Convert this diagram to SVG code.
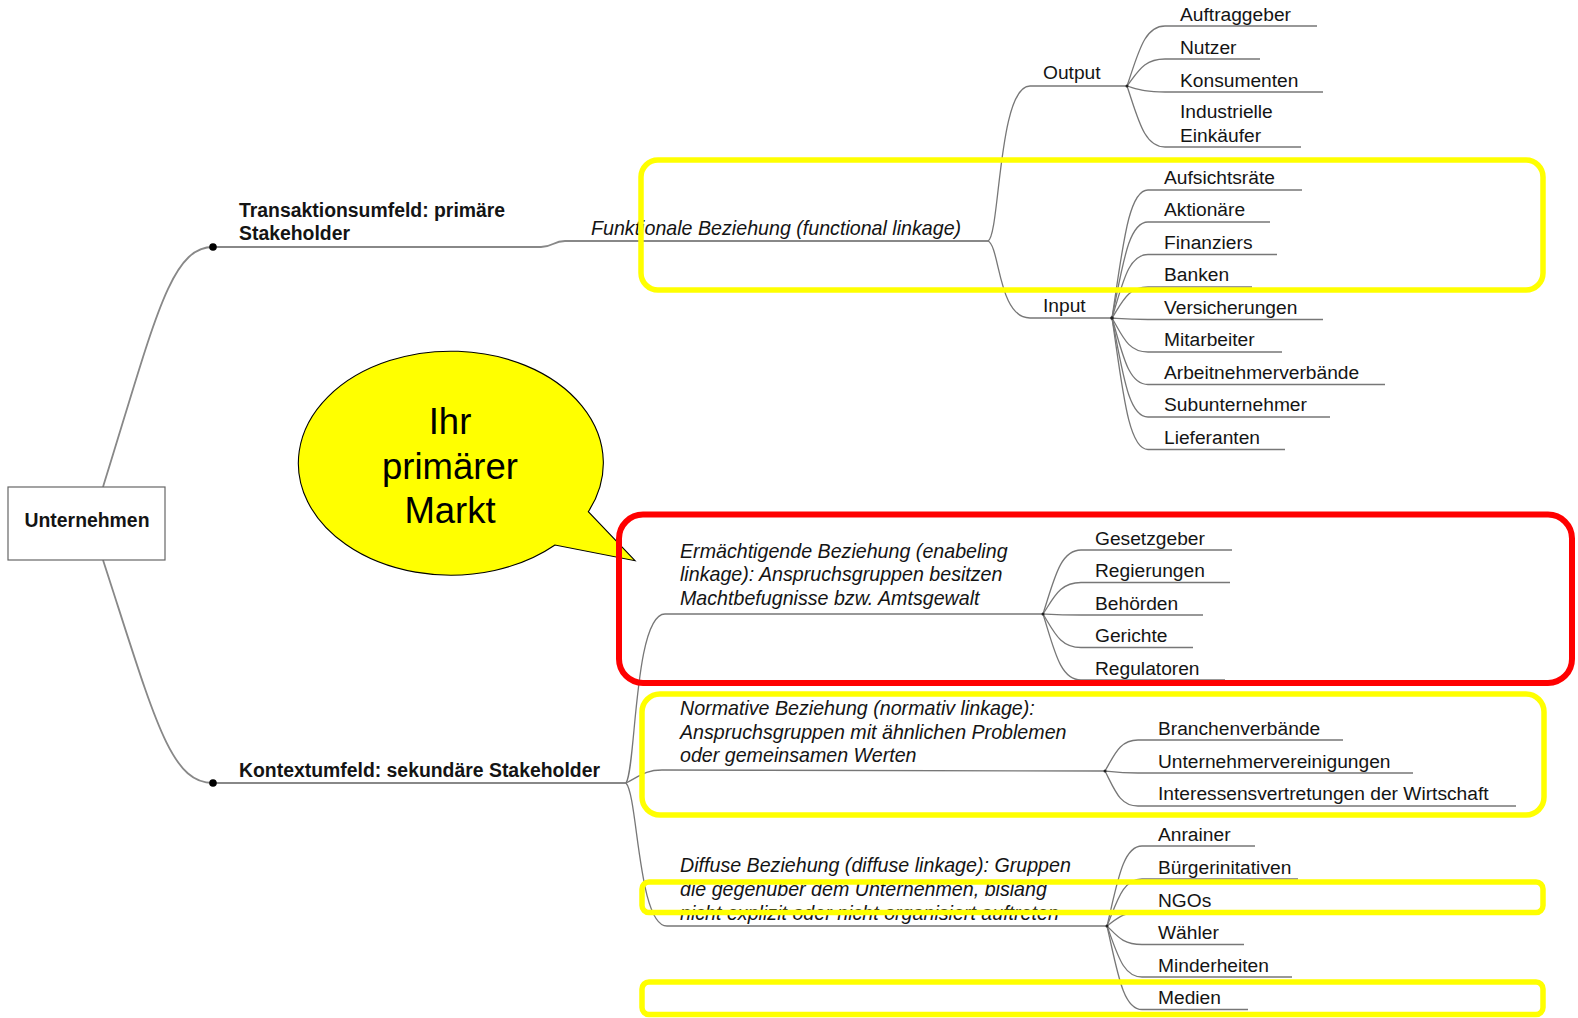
<svg xmlns="http://www.w3.org/2000/svg" width="1578" height="1018" viewBox="0 0 1578 1018">
<style>
text{font-family:"Liberation Sans",Arial,sans-serif;font-size:19.2px;fill:#141414}
.b{font-weight:bold;font-size:19.4px}
.i{font-style:italic;font-size:19.65px}
.c{fill:none;stroke:#777;stroke-width:1.3}
.m{fill:none;stroke:#888;stroke-width:1.8}
.dot{fill:#000}
.sd{fill:#222}
.hy{fill:none;stroke:#ffff00;stroke-width:5.5}
.hr{fill:none;stroke:#ff0000;stroke-width:6}
.big{font-size:36.5px;fill:#000;text-anchor:middle}
</style>
<rect width="1578" height="1018" fill="#fff"/>
<g id="connectors">
<path class="m" d="M103,487 C155,320 170,247 213,247 L541,247 C553,247 553,241 565,241 L988,241"/>
<path class="m" d="M103,560 C155,720 170,783 213,783 L626,783"/>
<path class="c" d="M988,241 C1000,236 998,86 1030,86 L1127,86"/>
<path class="c" d="M988,241 C1000,246 998,318 1030,318 L1112,318"/>
<path class="c" d="M1127,86 C1138.4,53 1144.1,26 1165,26 L1317,26"/>
<path class="c" d="M1127,86 C1138.4,71.2 1144.1,59 1165,59 L1260,59"/>
<path class="c" d="M1127,86 C1138.4,89.3 1144.1,92 1165,92 L1323,92"/>
<path class="c" d="M1127,86 C1138.4,119.6 1144.1,147 1165,147 L1301,147"/>
<path class="c" d="M1112,318 C1122.8,247.6 1128.2,190 1148,190 L1302,190"/>
<path class="c" d="M1112,318 C1122.8,265.2 1128.2,222 1148,222 L1270,222"/>
<path class="c" d="M1112,318 C1122.8,283.1 1128.2,254.5 1148,254.5 L1277,254.5"/>
<path class="c" d="M1112,318 C1122.8,301 1128.2,287 1148,287 L1252,287"/>
<path class="c" d="M1112,318 C1122.8,318.8 1128.2,319.5 1148,319.5 L1323,319.5"/>
<path class="c" d="M1112,318 C1122.8,336.7 1128.2,352 1148,352 L1282,352"/>
<path class="c" d="M1112,318 C1122.8,354.6 1128.2,384.5 1148,384.5 L1385,384.5"/>
<path class="c" d="M1112,318 C1122.8,372.5 1128.2,417 1148,417 L1330,417"/>
<path class="c" d="M1112,318 C1122.8,390.3 1128.2,449.5 1148,449.5 L1285,449.5"/>
<path class="c" d="M626,783 C636,770 634,614 665,614 L1043,614"/>
<path class="c" d="M626,783 C640,776 645,770 662,770 L1105,771"/>
<path class="c" d="M626,783 C638,796 638,926 667,926 L1107,926"/>
<path class="c" d="M1043,614 C1054.4,578.8 1060.1,550 1081,550 L1232,550"/>
<path class="c" d="M1043,614 C1054.4,596.7 1060.1,582.5 1081,582.5 L1230,582.5"/>
<path class="c" d="M1043,614 C1054.4,614.6 1060.1,615 1081,615 L1203,615"/>
<path class="c" d="M1043,614 C1054.4,632.4 1060.1,647.5 1081,647.5 L1193,647.5"/>
<path class="c" d="M1043,614 C1054.4,650.3 1060.1,680 1081,680 L1225,680"/>
<path class="c" d="M1105,771 C1114.9,754 1119.9,740 1138,740 L1343,740"/>
<path class="c" d="M1105,771 C1114.9,772.1 1119.9,773 1138,773 L1413,773"/>
<path class="c" d="M1105,771 C1114.9,790.3 1119.9,806 1138,806 L1516,806"/>
<path class="c" d="M1107,926 C1117.5,882 1122.8,846 1142,846 L1255,846"/>
<path class="c" d="M1107,926 C1117.5,900.2 1122.8,879 1142,879 L1298,879"/>
<path class="c" d="M1107,926 C1117.5,918.3 1122.8,912 1142,912 L1240,912"/>
<path class="c" d="M1107,926 C1117.5,936.2 1122.8,944.5 1142,944.5 L1244,944.5"/>
<path class="c" d="M1107,926 C1117.5,954 1122.8,977 1142,977 L1292,977"/>
<path class="c" d="M1107,926 C1117.5,971.9 1122.8,1009.5 1142,1009.5 L1248,1009.5"/>
<circle class="sd" cx="1127" cy="86" r="1.5"/>
<circle class="sd" cx="1112" cy="318" r="1.8"/>
<circle class="sd" cx="1043" cy="614" r="1.5"/>
<circle class="sd" cx="1105" cy="771" r="1.5"/>
<circle class="sd" cx="1107" cy="926" r="1.5"/>
</g>
<g id="n-unternehmen">
<rect x="8" y="487" width="157" height="73" fill="#fff" stroke="#666" stroke-width="1.2"/>
<text class="b" x="87" y="527" text-anchor="middle">Unternehmen</text>
</g>
<g id="n-transaktion">
<circle class="dot" cx="213" cy="247" r="3.8"/>
<text class="b" x="239" y="217">Transaktionsumfeld: primäre</text>
<text class="b" x="239" y="240">Stakeholder</text>
</g>
<g id="n-kontext">
<circle class="dot" cx="213" cy="783" r="3.8"/>
<text class="b" x="239" y="777">Kontextumfeld: sekundäre Stakeholder</text>
</g>
<g id="n-funktional"><text class="i" x="591" y="235">Funktionale Beziehung (functional linkage)</text></g>
<g id="n-output"><text x="1043" y="79">Output</text></g>
<g id="n-input"><text x="1043" y="312">Input</text></g>
<g id="n-auftraggeber"><text x="1180" y="21">Auftraggeber</text></g>
<g id="n-nutzer"><text x="1180" y="53.5">Nutzer</text></g>
<g id="n-konsumenten"><text x="1180" y="86.5">Konsumenten</text></g>
<g id="n-industrielle"><text x="1180" y="118">Industrielle</text><text x="1180" y="141.5">Einkäufer</text></g>
<g id="n-aufsichtsraete"><text x="1164" y="184">Aufsichtsräte</text></g>
<g id="n-aktionaere"><text x="1164" y="216">Aktionäre</text></g>
<g id="n-finanziers"><text x="1164" y="248.5">Finanziers</text></g>
<g id="n-banken"><text x="1164" y="281">Banken</text></g>
<g id="n-versicherungen"><text x="1164" y="313.5">Versicherungen</text></g>
<g id="n-mitarbeiter"><text x="1164" y="346">Mitarbeiter</text></g>
<g id="n-arbeitnehmerverbaende"><text x="1164" y="378.5">Arbeitnehmerverbände</text></g>
<g id="n-subunternehmer"><text x="1164" y="411">Subunternehmer</text></g>
<g id="n-lieferanten"><text x="1164" y="443.5">Lieferanten</text></g>
<g id="n-ermaechtigend">
<text class="i" x="680" y="557.5">Ermächtigende Beziehung (enabeling</text>
<text class="i" x="680" y="581">linkage): Anspruchsgruppen besitzen</text>
<text class="i" x="680" y="604.5">Machtbefugnisse bzw. Amtsgewalt</text>
</g>
<g id="n-gesetzgeber"><text x="1095" y="545">Gesetzgeber</text></g>
<g id="n-regierungen"><text x="1095" y="577">Regierungen</text></g>
<g id="n-behoerden"><text x="1095" y="609.5">Behörden</text></g>
<g id="n-gerichte"><text x="1095" y="642">Gerichte</text></g>
<g id="n-regulatoren"><text x="1095" y="674.5">Regulatoren</text></g>
<g id="n-normativ">
<text class="i" x="680" y="715">Normative Beziehung (normativ linkage):</text>
<text class="i" x="680" y="738.5">Anspruchsgruppen mit ähnlichen Problemen</text>
<text class="i" x="680" y="762">oder gemeinsamen Werten</text>
</g>
<g id="n-branchenverbaende"><text x="1158" y="734.5">Branchenverbände</text></g>
<g id="n-unternehmervereinigungen"><text x="1158" y="767.5">Unternehmervereinigungen</text></g>
<g id="n-interessensvertretungen"><text x="1158" y="800">Interessensvertretungen der Wirtschaft</text></g>
<g id="n-diffus">
<text class="i" x="680" y="872">Diffuse Beziehung (diffuse linkage): Gruppen</text>
<text class="i" x="680" y="896">die gegenüber dem Unternehmen, bislang</text>
<text class="i" x="680" y="920">nicht explizit oder nicht organisiert auftreten</text>
</g>
<g id="n-anrainer"><text x="1158" y="840.5">Anrainer</text></g>
<g id="n-buergerinitativen"><text x="1158" y="873.5">Bürgerinitativen</text></g>
<g id="n-ngos"><text x="1158" y="906.5">NGOs</text></g>
<g id="n-waehler"><text x="1158" y="939">Wähler</text></g>
<g id="n-minderheiten"><text x="1158" y="971.5">Minderheiten</text></g>
<g id="n-medien"><text x="1158" y="1004">Medien</text></g>
<g id="n-bubble">
<path d="M588.3,511.7 A152.5,112 0 1 0 555,545 L635,560.7 Z" fill="#ffff00" stroke="#000" stroke-width="1.1"/>
<text class="big" x="450" y="434">Ihr</text>
<text class="big" x="450" y="478.5">primärer</text>
<text class="big" x="450" y="523">Markt</text>
</g>
<g id="highlights">
<rect class="hy" x="641" y="160" width="902" height="130" rx="17"/>
<rect class="hr" x="619" y="514.5" width="953" height="168.5" rx="24"/>
<rect class="hy" x="642" y="694" width="902" height="121" rx="18"/>
<rect class="hy" x="642" y="882" width="901" height="30.5" rx="7"/>
<rect class="hy" x="642" y="982" width="901" height="32.5" rx="7"/>
</g>
</svg>
